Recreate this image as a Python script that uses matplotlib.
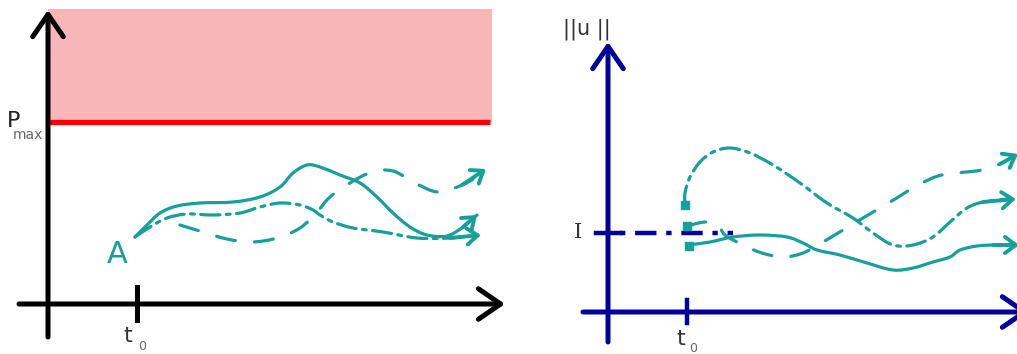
import matplotlib
matplotlib.use("Agg")
import matplotlib.pyplot as plt
import numpy as np
from matplotlib.path import Path
from matplotlib.patches import PathPatch

teal = "#17a09b"
navy = "#00009c"
pink = "#f8b6b8"

# ---- left panel (P over time), data units ~ pixels from the origin
p_max = 182
p_top = 295
p_right = 444
left_t0 = 89

l_solid_t = [87, 99, 112, 129, 152, 185, 212, 232, 245, 259, 272, 292, 312, 329, 345, 362, 379, 399, 415, 429]
l_solid_v = [67, 79, 91, 98, 101, 102, 107, 117, 131, 139, 137, 129, 121, 107, 91, 77, 69, 68, 77, 89]

l_dashdot_t = [87, 102, 119, 139, 165, 192, 212, 232, 252, 265, 272, 285, 305, 335, 369, 402, 429]
l_dashdot_v = [67, 77, 86, 90, 89, 91, 97, 101, 99, 94, 89, 82, 76, 72, 66, 66, 69]

l_dashed_t = [132, 155, 179, 204, 229, 252, 269, 282, 302, 324, 345, 367, 390, 414, 434]
l_dashed_v = [79, 72, 65, 62, 66, 76, 92, 107, 121, 132, 133, 121, 112, 119, 130]

# ---- right panel (||u|| over time)
u_level = 79
right_t0 = 79

r_solid_t = [80, 102, 125, 152, 179, 195, 209, 232, 259, 285, 305, 325, 342, 352, 369, 385, 404]
r_solid_v = [67, 70, 75, 77, 75, 69, 62, 57, 49, 42, 44, 50, 55, 62, 66, 67, 67]

r_dashdot_t = [77, 77, 82, 92, 105, 122, 142, 165, 192, 219, 245, 265, 285, 305, 325, 342, 359, 375, 399]
r_dashdot_v = [107, 119, 135, 150, 160, 164, 159, 147, 129, 109, 94, 79, 67, 67, 75, 90, 104, 110, 113]

r_dashed_t = [79, 97, 110, 117, 135, 154, 175, 195, 215, 235, 255, 272, 292, 310, 330, 349, 374, 392, 403]
r_dashed_v = [86, 90, 87, 77, 67, 59, 55, 59, 70, 82, 94, 104, 116, 127, 136, 139, 142, 148, 154]

start_t = [77, 79, 81]
start_v = [107, 86, 66]

fig = plt.figure(figsize=(10.17, 3.54), dpi=100)

dash = (0, (6, 6))
dashdot = (0, (6, 2, 1.2, 2))


def arrow(ax, tip, tail, color, lw, hl, hw, ms):
    ax.annotate("", xy=tip, xytext=tail, annotation_clip=False,
                arrowprops=dict(arrowstyle=f"->,head_length={hl},head_width={hw}",
                                lw=lw, color=color, shrinkA=0, shrinkB=0,
                                mutation_scale=ms, capstyle="round", joinstyle="round"))


def curve(ax, t, v, ls):
    # smooth hand-drawn stroke through the read points
    p = np.column_stack([t, v]).astype(float)
    verts = [p[0]]
    codes = [Path.MOVETO]
    n = len(p)
    for i in range(n - 1):
        p0 = p[max(i - 1, 0)]
        p1, p2 = p[i], p[i + 1]
        p3 = p[min(i + 2, n - 1)]
        verts += [p1 + (p2 - p0) / 6, p2 - (p3 - p1) / 6, p2]
        codes += [Path.CURVE4] * 3
    ax.add_patch(PathPatch(Path(verts, codes), fill=False, edgecolor=teal, lw=2.3,
                           linestyle=ls, capstyle="round", joinstyle="round"))


# left panel
ax1 = fig.add_axes([0, 0, 510 / 1017, 1])
ax1.set_xlim(-48, 462)
ax1.set_ylim(-50, 304)
ax1.axis("off")

ax1.fill_between([0, p_right], p_max, p_top, color=pink, lw=0)
ax1.plot([0, p_right - 2], [p_max, p_max], color="red", lw=3.8, solid_capstyle="butt")

arrow(ax1, (0, 294), (0, -33), "black", 3.6, 0.8, 0.55, 20)
arrow(ax1, (457, 0), (-29, 0), "black", 3.6, 0.8, 0.55, 20)
ax1.plot([left_t0, left_t0], [-16, 17], color="black", lw=3.6)

curve(ax1, l_solid_t, l_solid_v, "-")
curve(ax1, l_dashdot_t, l_dashdot_v, dashdot)
curve(ax1, l_dashed_t, l_dashed_v, dash)
arrow(ax1, (l_solid_t[-1], l_solid_v[-1]), (l_solid_t[-2], l_solid_v[-2]), teal, 2.8, 0.6, 0.45, 13)
arrow(ax1, (433, 69), (l_dashdot_t[-2], l_dashdot_v[-2]), teal, 2.8, 0.6, 0.45, 13)
arrow(ax1, (438, 135), (l_dashed_t[-2], l_dashed_v[-2]), teal, 2.8, 0.6, 0.45, 13)

ax1.text(-34, 177, "P", fontsize=16, color="#222222", ha="center", va="baseline")
ax1.text(-20, 165, "max", fontsize=10, color="#666666", ha="center", va="baseline")
ax1.text(69, 41, "A", fontsize=22, color=teal, ha="center", va="baseline")
ax1.text(80, -38, "t", fontsize=16, color="#333333", ha="center", va="baseline")
ax1.text(94, -46, "0", fontsize=9, color="#666666", ha="center", va="baseline")

# right panel
ax2 = fig.add_axes([510 / 1017, 0, 507 / 1017, 1])
ax2.set_xlim(-98, 409)
ax2.set_ylim(-42, 312)
ax2.axis("off")

arrow(ax2, (0, 270), (0, -30), navy, 3.6, 0.8, 0.55, 20)
arrow(ax2, (421, 0), (-25, 0), navy, 3.6, 0.8, 0.55, 20)
ax2.plot([right_t0, right_t0], [-11, 12], color=navy, lw=3.2)
ax2.plot([-12, 12], [u_level, u_level], color=navy, lw=3.2)
ax2.plot([12, 125], [u_level, u_level], color=navy, lw=3.2, linestyle=(0, (1.2, 2.2, 4.8, 2.2)),
         dash_capstyle="butt")

curve(ax2, r_solid_t, r_solid_v, "-")
curve(ax2, r_dashdot_t, r_dashdot_v, dashdot)
curve(ax2, r_dashed_t, r_dashed_v, dash)
ax2.plot(start_t, start_v, "s", color=teal, ms=6)
arrow(ax2, (411, 67), (r_solid_t[-2], r_solid_v[-2]), teal, 2.8, 0.6, 0.45, 13)
arrow(ax2, (408, 113), (r_dashdot_t[-2], r_dashdot_v[-2]), teal, 2.8, 0.6, 0.45, 13)
arrow(ax2, (410, 158), (r_dashed_t[-2], r_dashed_v[-2]), teal, 2.8, 0.6, 0.45, 13)

ax2.text(-21, 283, "||u ||", fontsize=15, color="#333333", ha="center", va="center")
ax2.text(-30, 79, "I", fontsize=15, color="#333333", ha="center", va="center",
         family="DejaVu Serif")
ax2.text(73, -33, "t", fontsize=16, color="#333333", ha="center", va="baseline")
ax2.text(85, -40, "0", fontsize=9, color="#666666", ha="center", va="baseline")

plt.savefig("out.png", dpi=100)
